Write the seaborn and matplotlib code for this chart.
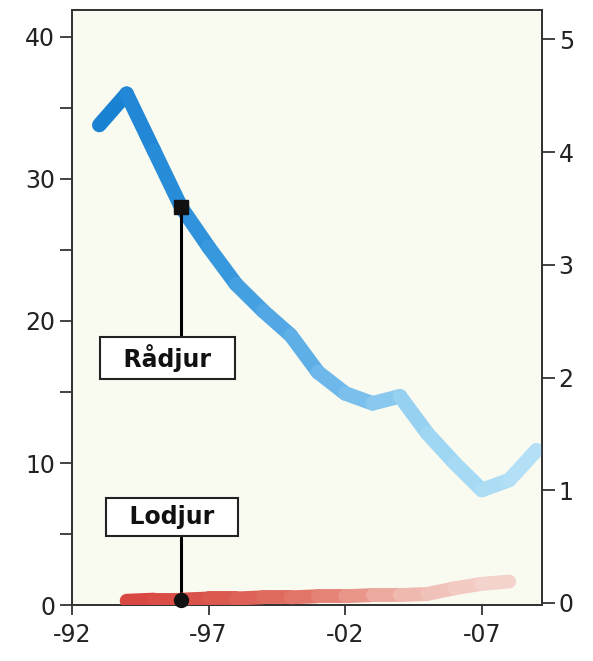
import numpy as np
import matplotlib.pyplot as plt
import seaborn as sns
from matplotlib.colors import LinearSegmentedColormap

# rådjur (left axis) and lodjur (right axis)
deer_years = [1993, 1994, 1995, 1996, 1997, 1998, 1999, 2000, 2001,
              2002, 2003, 2004, 2005, 2006, 2007, 2008, 2009]
deer = [33.8, 36.0, 32.0, 28.0, 25.2, 22.6, 20.7, 19.0, 16.4,
        14.9, 14.2, 14.7, 12.1, 10.0, 8.1, 8.8, 10.9]

lynx_years = [1994, 1995, 1996, 1997, 1998, 1999, 2000, 2001,
              2002, 2003, 2004, 2005, 2006, 2007, 2008]
lynx = [0.02, 0.03, 0.03, 0.04, 0.04, 0.05, 0.05, 0.06,
        0.06, 0.07, 0.07, 0.08, 0.13, 0.17, 0.19]

x_ticks = [1992, 1997, 2002, 2007]
x_labels = ["-92", "-97", "-02", "-07"]
left_ticks = [0, 10, 20, 30, 40]
right_ticks = [0, 1, 2, 3, 4, 5]

sns.set_style("ticks")
plt.rcParams["font.family"] = ["DejaVu Sans"]

fig = plt.figure(figsize=(5.93, 6.61), dpi=100)
ax = fig.add_axes([0.1214, 0.0847, 0.7926, 0.9002])
ax.set_facecolor("#f9faf0")
ax2 = ax.twinx()

deer_cmap = LinearSegmentedColormap.from_list(
    "deer", ["#1a82d3", "#3496dd", "#66b3e9", "#9ad3f2", "#b3e0f6"])
lynx_cmap = LinearSegmentedColormap.from_list(
    "lynx", ["#d84742", "#dc5a50", "#e27a6c", "#efb7ad", "#f5d3cd"])

n = len(deer) - 1
for i in range(n):
    sns.lineplot(x=deer_years[i:i + 2], y=deer[i:i + 2], ax=ax,
                 color=deer_cmap(i / (n - 1)), lw=10.5,
                 solid_capstyle="round", legend=False, zorder=3)

m = len(lynx) - 1
for i in range(m):
    sns.lineplot(x=lynx_years[i:i + 2], y=lynx[i:i + 2], ax=ax2,
                 color=lynx_cmap(i / (m - 1)), lw=10,
                 solid_capstyle="round", legend=False, zorder=3)

# callouts
mark_year = 1996
deer_val = deer[deer_years.index(mark_year)]
lynx_val = lynx[lynx_years.index(mark_year)]

ax.plot([mark_year, mark_year], [deer_val, 18.8], color="black", lw=2.2, zorder=4)
ax.plot([mark_year], [deer_val], marker="s", ms=10, color="#111111", zorder=5)
ax.text(1995.5, 17.4, "  Rådjur  ", ha="center", va="center", fontsize=17,
        fontweight="bold", color="#111111", zorder=6,
        bbox=dict(boxstyle="square,pad=0.3", fc="white", ec="#222222", lw=1.5))

ax.plot([mark_year, mark_year], [0, 4.8], color="black", lw=2.2, zorder=4)
ax2.plot([mark_year], [lynx_val], marker="o", ms=10, color="#111111",
         zorder=5, clip_on=False)
ax.text(1995.65, 6.2, "  Lodjur  ", ha="center", va="center", fontsize=17,
        fontweight="bold", color="#111111", zorder=6,
        bbox=dict(boxstyle="square,pad=0.3", fc="white", ec="#222222", lw=1.5))

ax.set_xlim(1992, 2009.2)
ax.set_ylim(0, 41.9)
ax2.set_ylim(-0.018, 5.26)

ax.set_xticks(x_ticks)
ax.set_xticklabels(x_labels)
ax.set_yticks(left_ticks)
ax.set_yticks([5, 15, 25, 35], minor=True)
ax2.set_yticks(right_ticks)

ax.tick_params(axis="y", which="major", length=9, width=1.2, pad=3,
               labelsize=17, colors="#222222")
ax.tick_params(axis="y", which="minor", length=9, width=1.2, color="#222222")
ax.tick_params(axis="x", length=7, width=1.2, pad=6, labelsize=17,
               colors="#222222")
ax2.tick_params(axis="y", length=9, width=1.2, pad=3, labelsize=17,
                colors="#222222")

ax.set_xlabel("")
ax.set_ylabel("")
ax2.set_ylabel("")
for a in (ax, ax2):
    for s in a.spines.values():
        s.set_color("#333333")
        s.set_linewidth(1.3)
ax.set_zorder(ax2.get_zorder() - 1)
ax2.patch.set_visible(False)
ax.patch.set_visible(True)

fig.savefig("out.png", dpi=100, facecolor="white")
